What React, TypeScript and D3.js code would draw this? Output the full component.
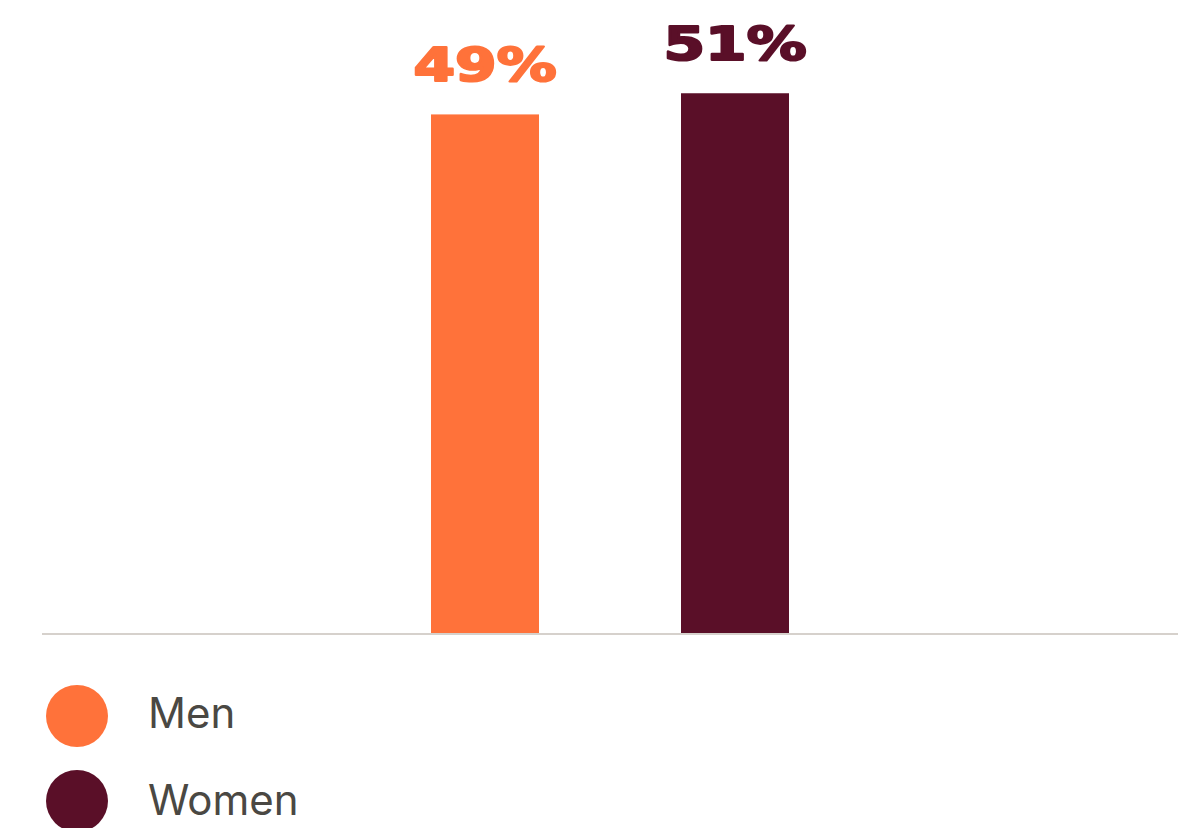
import React from "react";
import * as d3 from "d3";

const categories = ["Men", "Women"];
const values = [49, 51];
const labels = ["49%", "51%"];
const colors = ["#FF723A", "#5A0F28"];

const W = 1178;
const H = 828;

export default function App() {
  const x = d3
    .scaleBand<string>()
    .domain(categories)
    .range([42, 1178])
    .paddingInner(0.568)
    .paddingOuter(1.556);
  const y = d3.scaleLinear().domain([0, 60]).range([633, -2]);
  const bw = x.bandwidth();

  return (
    <svg
      width={W}
      height={H}
      style={{ position: "absolute", left: 0, top: 0, background: "#fff" }}
    >
      {categories.map((c, i) => (
        <g key={c}>
          <rect
            x={x(c)!}
            y={y(values[i])}
            width={bw}
            height={y(0) - y(values[i])}
            fill={colors[i]}
          />
          <text
            transform={`translate(${x(c)! + bw / 2},${y(values[i]) - 33}) scale(1.3,1)`}
            textAnchor="middle"
            fontFamily="DejaVu Sans"
            fontWeight="bold"
            fontSize={46}
            fill={colors[i]}
            stroke={colors[i]}
            strokeWidth={2.2}
            strokeLinejoin="round"
          >
            {labels[i]}
          </text>
        </g>
      ))}
      <line x1={42} x2={1178} y1={y(0) + 1} y2={y(0) + 1} stroke="#d6d1cc" strokeWidth={2} />
      {categories.map((c, i) => (
        <g key={"lg" + c} transform={`translate(0,${716 + i * 85})`}>
          <circle cx={77} cy={0} r={31} fill={colors[i]} />
          <text x={148} y={12 + i * 2} fontFamily="Inter" fontSize={42} fill="#4a4843">
            {c}
          </text>
        </g>
      ))}
    </svg>
  );
}
